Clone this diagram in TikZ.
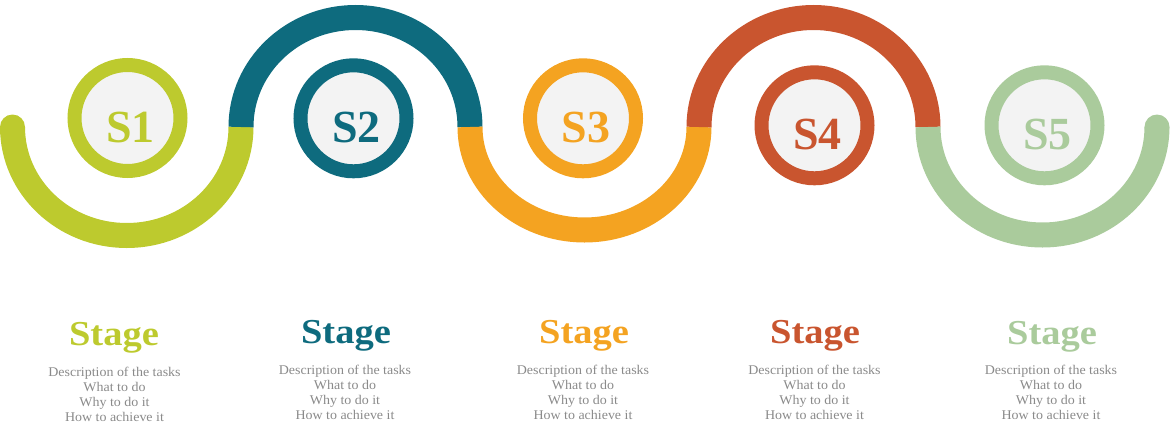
\documentclass[tikz,border=0pt]{standalone}
\usepackage{fontspec}
\setmainfont{Liberation Serif}[FakeStretch=1.1]
\newfontfamily\badgefont{Liberation Serif}
\newfontfamily\descfont{Liberation Serif}[FakeStretch=1.05]

\definecolor{cA}{HTML}{BDCA2E}
\definecolor{cB}{HTML}{0E6B7E}
\definecolor{cC}{HTML}{F4A321}
\definecolor{cD}{HTML}{C9552F}
\definecolor{cE}{HTML}{AACB9C}
\definecolor{disc}{HTML}{F3F3F3}
\definecolor{txtgray}{HTML}{8A8A8A}

\tikzset{
  wave/.style={line width=25pt, line cap=butt},
  badge/.style={circle, minimum size=106pt, inner sep=0pt, line width=14pt, fill=disc},
  badgelabel/.style={anchor=base, inner sep=0pt, font=\badgefont\fontsize{46}{50}\selectfont\bfseries},
  stagetitle/.style={anchor=base, inner sep=0pt, font=\fontsize{35}{40}\selectfont\bfseries},
  desc/.style={anchor=base, inner sep=0pt, text=txtgray, font=\descfont\fontsize{13.3}{15}\selectfont}
}

\begin{document}
\begin{tikzpicture}[x=1pt,y=1pt]
\useasboundingbox (0,0) rectangle (1170,-423);

% joints of the wave
\coordinate (p0) at (12.5,-127);
\coordinate (p1) at (241,-127);
\coordinate (p2) at (470,-127);
\coordinate (p3) at (699,-127);
\coordinate (p4) at (928,-127);
\coordinate (p5) at (1157,-127);

% the wave: alternating half ellipses
\draw[wave, cA] (p0) arc[start angle=180, end angle=360, x radius=114.25pt, y radius=108.5pt];
\draw[wave, cB] (p1) arc[start angle=180, end angle=0, x radius=114.5pt, y radius=109.5pt];
\draw[wave, cC] (p2) arc[start angle=180, end angle=360, x radius=114.5pt, y radius=103pt];
\draw[wave, cD] (p3) arc[start angle=180, end angle=0, x radius=114.5pt, y radius=109.5pt];
\draw[wave, cE] (p4) arc[start angle=180, end angle=360, x radius=114.5pt, y radius=108pt];
% rounded free ends
\fill[cA] (p0) circle[radius=12.5pt];
\fill[cE] (p5) circle[radius=12.5pt];

% stage badges
\foreach \n/\x/\y/\c in {1/127.5/118/cA, 2/353.5/118.3/cB, 3/583/118.3/cC, 4/814.5/125.3/cD, 5/1044.5/125.3/cE}{
  \node[badge, draw=\c] (s\n) at (\x,-\y) {};
  \node[badgelabel, text=\c] (sl\n) at ([xshift=3pt, yshift=-24pt]s\n.center) {S\n};
}

% titles and descriptions
\foreach \n/\tx/\ty/\dx/\dy/\c in {1/114/345/114.5/376.7/cA, 2/346/343.5/345/374/cB, 3/584/343.3/583/374/cC, 4/815/343.3/814.5/374/cD, 5/1052/344/1051/374/cE}{
  \node[stagetitle, text=\c] (t\n) at (\tx,-\ty) {Stage};
  \node[desc] (da\n) at (\dx,-\dy) {Description of the tasks};
  \node[desc] (db\n) at (\dx,{-\dy-15}) {What to do};
  \node[desc] (dc\n) at (\dx,{-\dy-30}) {Why to do it};
  \node[desc] (dd\n) at (\dx,{-\dy-45}) {How to achieve it};
}
\end{tikzpicture}
\end{document}
